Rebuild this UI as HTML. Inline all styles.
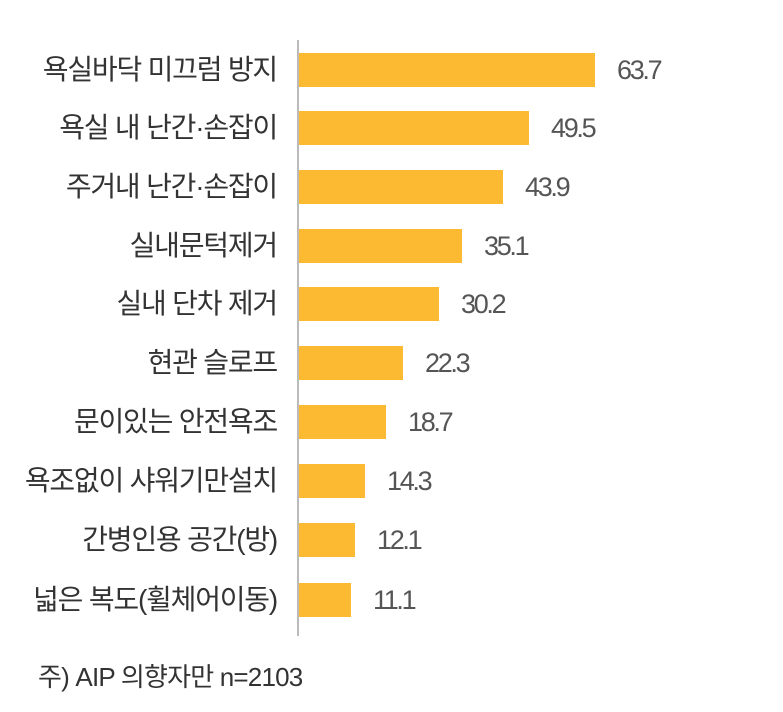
<!DOCTYPE html>
<html><head><meta charset="utf-8"><style>
body{margin:0;background:#fff;width:783px;height:712px;overflow:hidden;position:relative;font-family:"Liberation Sans","Noto Sans CJK KR",sans-serif}
.axis{position:absolute;left:297px;top:40px;width:2px;height:596px;background:#bbb}
.bar{position:absolute;left:299px;height:34px;background:#FBBA31}
.lab{position:absolute;right:506px;font-size:28px;color:#333;white-space:nowrap;letter-spacing:-1.2px;line-height:34px}
.val{position:absolute;font-size:27px;color:#555;letter-spacing:-2.3px;line-height:34px}
.note{position:absolute;left:38px;top:657px;font-size:26px;color:#333;letter-spacing:-0.8px}
</style></head><body>
<div class="axis"></div>
<div class="lab" style="top:53px">욕실바닥 미끄럼 방지</div><div class="bar" style="top:53px;width:296px"></div><div class="val" style="top:53px;left:617px">63.7</div>
<div class="lab" style="top:111px">욕실 내 난간·손잡이</div><div class="bar" style="top:111px;width:230px"></div><div class="val" style="top:111px;left:551px">49.5</div>
<div class="lab" style="top:170px">주거내 난간·손잡이</div><div class="bar" style="top:170px;width:204px"></div><div class="val" style="top:170px;left:525px">43.9</div>
<div class="lab" style="top:229px">실내문턱제거</div><div class="bar" style="top:229px;width:163px"></div><div class="val" style="top:229px;left:484px">35.1</div>
<div class="lab" style="top:287px">실내 단차 제거</div><div class="bar" style="top:287px;width:140px"></div><div class="val" style="top:287px;left:461px">30.2</div>
<div class="lab" style="top:346px">현관 슬로프</div><div class="bar" style="top:346px;width:104px"></div><div class="val" style="top:346px;left:425px">22.3</div>
<div class="lab" style="top:405px">문이있는 안전욕조</div><div class="bar" style="top:405px;width:87px"></div><div class="val" style="top:405px;left:408px">18.7</div>
<div class="lab" style="top:464px">욕조없이 샤워기만설치</div><div class="bar" style="top:464px;width:66px"></div><div class="val" style="top:464px;left:387px">14.3</div>
<div class="lab" style="top:523px">간병인용 공간(방)</div><div class="bar" style="top:523px;width:56px"></div><div class="val" style="top:523px;left:377px">12.1</div>
<div class="lab" style="top:583px">넓은 복도(휠체어이동)</div><div class="bar" style="top:583px;width:52px"></div><div class="val" style="top:583px;left:373px">11.1</div>
<div class="note">주) AIP 의향자만 n=2103</div>
</body></html>
